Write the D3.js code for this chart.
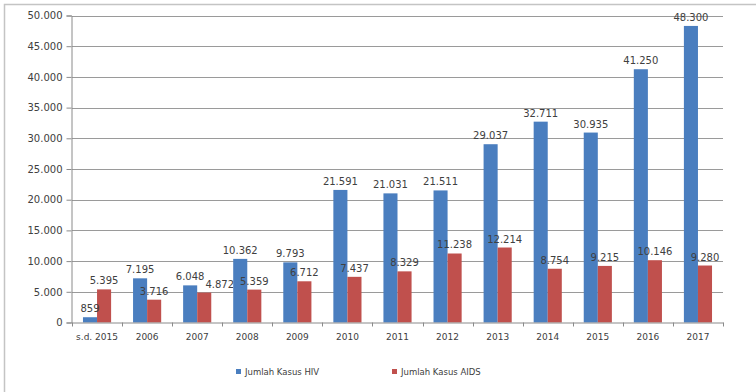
<!DOCTYPE html>
<html><head><meta charset="utf-8">
<script src="https://cdn.jsdelivr.net/npm/d3@7"></script>
<style>body{margin:0;background:#fff}svg{display:block}text{font-family:"DejaVu Sans",sans-serif;fill:#404040}</style>
</head><body><svg id="c" width="756" height="392"></svg>
<script>
const categories = ["s.d. 2015","2006","2007","2008","2009","2010","2011","2012","2013","2014","2015","2016","2017"];
const hivValues = [859,7195,6048,10362,9793,21591,21031,21511,29037,32711,30935,41250,48300];
const aidsValues = [5395,3716,4872,5359,6712,7437,8329,11238,12214,8754,9215,10146,9280];
const seriesNames = ["Jumlah Kasus HIV","Jumlah Kasus AIDS"];
const seriesColors = ["#4a7ebf","#c0504d"];
const yTicks = [0,5000,10000,15000,20000,25000,30000,35000,40000,45000,50000];

const svg = d3.select("#c");
const fmt = v => d3.format(",")(v).replace(/,/g,".");
// frame
svg.append("path").attr("d","M4.5,392V4.5H756").attr("fill","none").attr("stroke","#c4c4c4").attr("stroke-width",1.5);

const x = d3.scaleBand().domain(categories).range([72,723]).paddingInner(0).paddingOuter(0);
const y = d3.scaleLinear().domain([0,50000]).range([322.5,15.5]);
const xs = d3.scaleBand().domain([0,1]).range([0,x.bandwidth()]).paddingInner(0).paddingOuter(0.78);

// gridlines
svg.append("g").selectAll("line").data(yTicks.slice(1)).join("line")
  .attr("x1",72).attr("x2",723).attr("y1",d=>Math.round(y(d))+0.5).attr("y2",d=>Math.round(y(d))+0.5)
  .attr("stroke","#9a9a9a").attr("stroke-width",1);

// y axis
const ya = svg.append("g").attr("transform","translate(71.5,0)")
  .call(d3.axisLeft(y).tickValues(yTicks).tickFormat(fmt).tickSize(5).tickPadding(4));
ya.select(".domain").attr("stroke","#8a8a8a");
ya.selectAll(".tick line").attr("stroke","#8a8a8a");
ya.selectAll("text").attr("font-size",10).attr("fill","#4a4a4a").attr("font-family","DejaVu Sans");

// bars
const data = categories.map((c,i)=>({c, vals:[hivValues[i],aidsValues[i]]}));
const groups = svg.append("g").selectAll("g").data(data).join("g")
  .attr("transform",d=>`translate(${x(d.c)},0)`);
groups.selectAll("rect").data(d=>d.vals.map((v,k)=>({v,k}))).join("rect")
  .attr("x",d=>xs(d.k)).attr("width",xs.bandwidth())
  .attr("y",d=>y(d.v)).attr("height",d=>y(0)-y(d.v))
  .attr("fill",d=>seriesColors[d.k]);
groups.selectAll("text.val").data(d=>d.vals.map((v,k)=>({v,k}))).join("text")
  .attr("class","val")
  .attr("x",d=>xs(d.k)+xs.bandwidth()/2).attr("y",d=>y(d.v)-5)
  .attr("text-anchor","middle").attr("font-size",10).attr("fill","#3a3a3a")
  .text(d=>fmt(d.v));
// nudge the AIDS label right when it collides with the HIV label of the same group
groups.each(function(){
  const t = d3.select(this).selectAll("text.val").nodes();
  const a = t[0].getBBox(), b = t[1].getBBox();
  const vOver = !(a.y + a.height <= b.y || b.y + b.height <= a.y);
  const hOver = a.x + a.width - b.x;
  if (vOver && hOver > 0) {
    t[1].setAttribute("x", +t[1].getAttribute("x") + hOver + 1);
  }
});

// x axis
const xa = svg.append("g").attr("transform",`translate(0,${y(0)})`)
  .call(d3.axisBottom(x).tickSize(0).tickPadding(11));
xa.select(".domain").attr("stroke","#8a8a8a");
xa.selectAll("text").attr("font-size",9).attr("fill","#4a4a4a").attr("font-family","DejaVu Sans");
// separator ticks between categories
const seps = categories.map((c,i)=>x(c)).concat([x.range()[1]]);
svg.append("g").selectAll("line").data(seps).join("line")
  .attr("x1",d=>Math.round(d)+0.5).attr("x2",d=>Math.round(d)+0.5)
  .attr("y1",y(0)).attr("y2",y(0)+4).attr("stroke","#8a8a8a");

// legend
const legX = [236,392];
const leg = svg.append("g").selectAll("g").data(seriesNames).join("g")
  .attr("transform",(d,i)=>`translate(${legX[i]},372)`);
leg.append("rect").attr("x",0).attr("y",-3).attr("width",5).attr("height",5).attr("fill",(d,i)=>seriesColors[i]);
leg.append("text").attr("x",9).attr("y",3).attr("font-size",8.5).attr("fill","#4a4a4a").text(d=>d);
</script></body></html>
